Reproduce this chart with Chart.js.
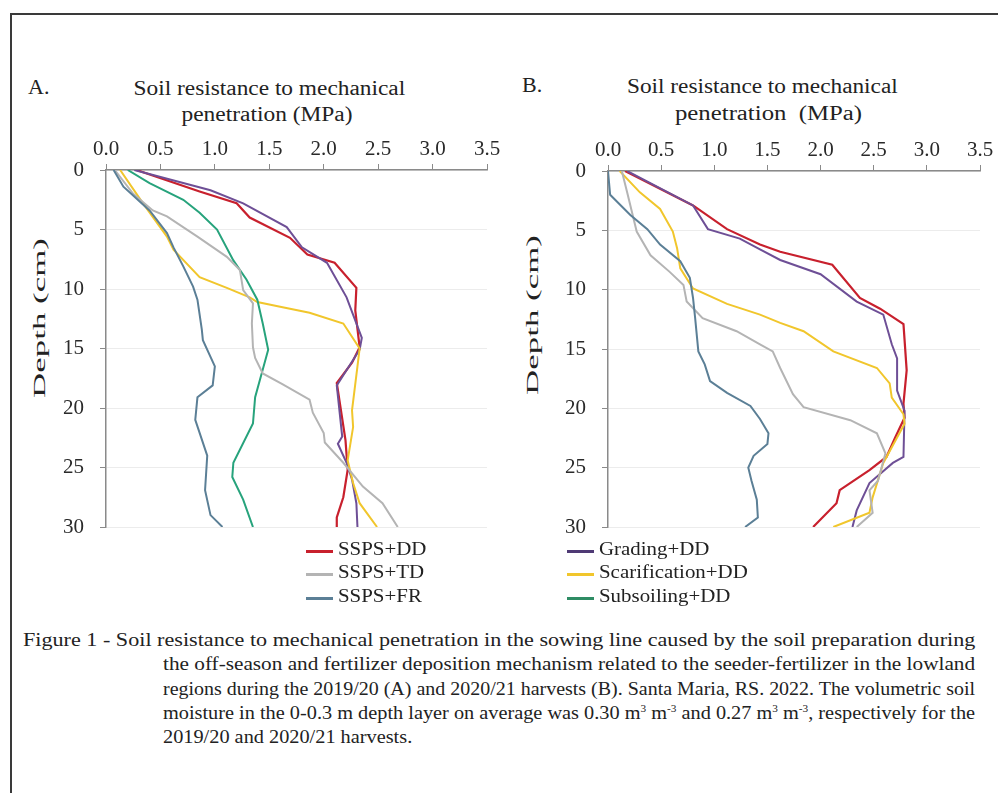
<!DOCTYPE html>
<html>
<head>
<meta charset="utf-8">
<script src="https://cdn.jsdelivr.net/npm/chart.js@4"></script>
<style>
    html, body { margin: 0; padding: 0; background: #fff; }
    body { width: 998px; height: 793px; position: relative; overflow: hidden;
           font-family: 'Liberation Serif', 'DejaVu Serif', serif; color: #222; }
    .frame { position: absolute; left: 10px; top: 13px; width: 1000px; height: 820px;
             border: 2px solid #3a3a3a; box-sizing: border-box; }
    .abs { position: absolute; white-space: pre; }
    .panel-tag { font-size: 22px; }
    .axis-title { font-size: 20px; line-height: 24px; }
    .y-title { font-size: 17px; line-height: 20px; }
    canvas { position: absolute; }
    .legend-row { position: absolute; font-size: 19px; line-height: 22px; height: 22px; white-space: nowrap; }
    .legend-row i { display: inline-block; width: 27px; height: 3px; vertical-align: middle;
                    margin-right: 5px; position: relative; top: 1px; }
    .legend-row span { display: inline-block; transform: scaleX(1.1); transform-origin: left center; }
    .cap { position: absolute; font-size: 18px; line-height: 24px; white-space: nowrap;
           transform-origin: left center; }
    .cap sup { font-size: 10px; line-height: 0; }
</style>
</head>
<body>
<div class="frame"></div>

<div class="abs panel-tag" style="left:28px; top:74px;">A.</div>
<div class="abs panel-tag" style="left:522px; top:72px;">B.</div>

<div class="abs axis-title" data-cx="269" data-fit="272" style="top:76px;">Soil resistance to mechanical</div>
<div class="abs axis-title" data-cx="267" data-fit="171" style="top:102px;">penetration (MPa)</div>
<div class="abs axis-title" data-cx="762" data-fit="271" style="top:74px;">Soil resistance to mechanical</div>
<div class="abs axis-title" data-cx="768" data-fit="187" style="top:101px;">penetration  (MPa)</div>

<div class="abs y-title" data-cx="40" data-cy="318" data-fit="160" data-rot="1">Depth (cm)</div>
<div class="abs y-title" data-cx="533" data-cy="315" data-fit="160" data-rot="1">Depth (cm)</div>

<canvas id="chart-a" width="500" height="410" style="left:0; top:130px;"></canvas>
<canvas id="chart-b" width="498" height="410" style="left:500px; top:130px;"></canvas>

<div id="legend"></div>

<div class="cap" data-line="952" style="left:23px; top:628px;">Figure 1 - Soil resistance to mechanical penetration in the sowing line caused by the soil preparation during</div>
<div class="cap" data-line="812" style="left:163px; top:652px;">the off-season and fertilizer deposition mechanism related to the seeder-fertilizer in the lowland</div>
<div class="cap" data-line="812" style="left:163px; top:677px;">regions during the 2019/20 (A) and 2020/21 harvests (B). Santa Maria, RS. 2022. The volumetric soil</div>
<div class="cap" data-line="812" style="left:163px; top:701px;">moisture in the 0-0.3 m depth layer on average was 0.30 m<sup>3</sup> m<sup>-3</sup> and 0.27 m<sup>3</sup> m<sup>-3</sup>, respectively for the</div>
<div class="cap" data-line="last" style="left:163px; top:725px;">2019/20 and 2020/21 harvests.</div>

<script>
(function () {
    'use strict';

    // ═══════════════════════════════════════════════════════════════
    // 1. DATA (depth in cm, resistance in MPa)
    // ═══════════════════════════════════════════════════════════════

    const xTicks = [0, 0.5, 1.0, 1.5, 2.0, 2.5, 3.0, 3.5];
    const depthTicks = [0, 5, 10, 15, 20, 25, 30];

    // Panel A — 2019/20
    const aRedDepth = [0, 1.8, 2.8, 4.0, 5.7, 7.1, 7.8, 9.9, 11.8, 14.9, 16.2, 17.9, 22.7, 25.2, 27.5, 29.2, 30];
    const aRedMpa   = [0.28, 0.86, 1.20, 1.32, 1.69, 1.85, 2.10, 2.30, 2.29, 2.33, 2.26, 2.12, 2.20, 2.22, 2.18, 2.12, 2.12];

    const aPurpleDepth = [0, 1.7, 2.8, 4.8, 6.5, 7.8, 10.7, 14.1, 15.1, 18.1, 22.4, 23.0, 24.6, 26.0, 28.0, 30];
    const aPurpleMpa   = [0.26, 0.96, 1.26, 1.66, 1.80, 2.03, 2.21, 2.35, 2.33, 2.12, 2.17, 2.13, 2.21, 2.26, 2.30, 2.31];

    const aGrayDepth = [0, 2.0, 3.4, 3.9, 5.6, 7.3, 8.4, 10.1, 11.2, 12.9, 14.9, 15.8, 17.1, 18.0, 19.3, 20.4, 22.1, 22.9, 24.6, 26.6, 28.0, 30];
    const aGrayMpa   = [0.08, 0.25, 0.43, 0.56, 0.84, 1.11, 1.23, 1.26, 1.35, 1.34, 1.35, 1.37, 1.44, 1.62, 1.87, 1.90, 2.00, 2.01, 2.18, 2.36, 2.54, 2.68];

    const aBlueDepth = [0, 1.4, 3.4, 5.3, 6.5, 8.1, 9.8, 10.9, 13.4, 14.3, 16.5, 18.1, 19.1, 21.0, 24.0, 26.9, 29.0, 30];
    const aBlueMpa   = [0.07, 0.16, 0.40, 0.56, 0.62, 0.71, 0.80, 0.84, 0.88, 0.89, 1.00, 0.98, 0.84, 0.82, 0.93, 0.91, 0.96, 1.07];

    const aYellowDepth = [0, 2.8, 5.6, 6.7, 9.0, 9.9, 10.7, 11.1, 11.5, 12.0, 12.9, 15.0, 16.5, 20.2, 21.6, 24.4, 26.3, 28.0, 30];
    const aYellowMpa   = [0.13, 0.34, 0.56, 0.62, 0.86, 1.11, 1.32, 1.39, 1.60, 1.87, 2.18, 2.33, 2.31, 2.26, 2.27, 2.22, 2.27, 2.33, 2.49];

    const aGreenDepth = [0, 1.1, 2.5, 3.6, 5.0, 7.6, 9.2, 10.9, 12.9, 15.1, 17.1, 19.1, 21.3, 24.6, 25.8, 27.7, 30];
    const aGreenMpa   = [0.20, 0.40, 0.71, 0.86, 1.02, 1.17, 1.29, 1.39, 1.44, 1.49, 1.43, 1.37, 1.35, 1.17, 1.16, 1.26, 1.35];

    // Panel B — 2020/21
    const bRedDepth = [0, 2.9, 4.9, 6.2, 6.8, 7.9, 10.7, 11.6, 12.9, 16.8, 19.6, 20.8, 22.5, 24.1, 25.2, 26.9, 28.0, 30];
    const bRedMpa   = [0.16, 0.80, 1.12, 1.43, 1.62, 2.11, 2.37, 2.56, 2.78, 2.81, 2.78, 2.79, 2.70, 2.62, 2.46, 2.18, 2.15, 1.93];

    const bPurpleDepth = [0, 2.9, 4.9, 5.7, 6.6, 7.5, 8.7, 11.0, 12.1, 14.6, 15.8, 18.5, 20.2, 24.1, 24.6, 26.3, 28.6, 30];
    const bPurpleMpa   = [0.18, 0.80, 0.94, 1.24, 1.43, 1.62, 2.00, 2.34, 2.59, 2.67, 2.72, 2.72, 2.79, 2.78, 2.68, 2.46, 2.34, 2.30];

    const bYellowDepth = [0, 1.8, 3.2, 5.1, 6.5, 8.2, 9.9, 11.2, 12.1, 12.8, 13.5, 15.2, 16.6, 17.9, 19.1, 20.5, 21.3, 24.6, 27.5, 28.8, 30];
    const bYellowMpa   = [0.11, 0.30, 0.49, 0.61, 0.65, 0.68, 0.80, 1.12, 1.43, 1.62, 1.84, 2.12, 2.53, 2.65, 2.67, 2.78, 2.79, 2.59, 2.49, 2.46, 2.12];

    const bGrayDepth = [0, 1.8, 5.1, 7.1, 8.5, 9.6, 11.0, 12.4, 13.5, 14.6, 15.2, 16.6, 18.8, 19.9, 21.0, 22.1, 23.8, 26.1, 26.9, 28.8, 30];
    const bGrayMpa   = [0.13, 0.18, 0.27, 0.40, 0.58, 0.71, 0.74, 0.89, 1.21, 1.43, 1.55, 1.62, 1.74, 1.84, 2.28, 2.53, 2.61, 2.54, 2.46, 2.49, 2.34];

    const bBlueDepth = [0, 2.0, 3.7, 4.9, 6.2, 7.6, 9.0, 10.7, 12.4, 15.2, 16.3, 17.7, 18.7, 19.8, 20.9, 22.1, 23.0, 24.0, 25.0, 26.1, 27.7, 29.2, 30];
    const bBlueMpa   = [0.00, 0.02, 0.21, 0.37, 0.49, 0.68, 0.77, 0.80, 0.82, 0.85, 0.91, 0.96, 1.12, 1.34, 1.43, 1.51, 1.50, 1.37, 1.32, 1.35, 1.40, 1.41, 1.29];

    // ═══════════════════════════════════════════════════════════════
    // 2. COLOURS + LEGEND
    // ═══════════════════════════════════════════════════════════════

    const COLORS = {
        red: '#c8202d',
        gray: '#b4b4b4',
        blue: '#5b7f96',
        purple: '#6e4f96',
        yellow: '#f1c62c',
        green: '#27a37c'
    };

    const legendItems = [
        { label: 'SSPS+DD', color: COLORS.red, left: 306, top: 538 },
        { label: 'SSPS+TD', color: COLORS.gray, left: 306, top: 561 },
        { label: 'SSPS+FR', color: COLORS.blue, left: 306, top: 585 },
        { label: 'Grading+DD', color: '#4f3a75', left: 567, top: 538 },
        { label: 'Scarification+DD', color: COLORS.yellow, left: 567, top: 561 },
        { label: 'Subsoiling+DD', color: '#2e8c64', left: 567, top: 585 }
    ];

    const legendEl = document.getElementById('legend');
    legendItems.forEach(function (item) {
        const row = document.createElement('div');
        row.className = 'legend-row';
        row.style.left = item.left + 'px';
        row.style.top = item.top + 'px';
        row.innerHTML = '<i style="background:' + item.color + '"></i><span>' + item.label + '</span>';
        legendEl.appendChild(row);
    });

    // ═══════════════════════════════════════════════════════════════
    // 3. TEXT FITTING (the source figure is stretched horizontally)
    // ═══════════════════════════════════════════════════════════════

    document.querySelectorAll('[data-fit]').forEach(function (el) {
        const w = el.offsetWidth, h = el.offsetHeight;
        const s = Number(el.dataset.fit) / w;
        if (el.dataset.rot) {
            el.style.left = (Number(el.dataset.cx) - w / 2) + 'px';
            el.style.top = (Number(el.dataset.cy) - h / 2) + 'px';
            el.style.transform = 'rotate(-90deg) scaleX(' + s + ')';
        } else {
            el.style.left = (Number(el.dataset.cx) - w / 2) + 'px';
            el.style.transform = 'scaleX(' + s + ')';
        }
    });

    let lastScale = 1;
    document.querySelectorAll('.cap').forEach(function (el) {
        if (el.dataset.line !== 'last') {
            lastScale = Number(el.dataset.line) / el.offsetWidth;
        }
        el.style.transform = 'scaleX(' + lastScale + ')';
    });

    // ═══════════════════════════════════════════════════════════════
    // 4. CHART BUILDER
    // ═══════════════════════════════════════════════════════════════

    function toPoints(depths, values) {
        return depths.map(function (d, i) { return { x: values[i], y: d }; });
    }

    function series(depths, values, color, width) {
        return {
            data: toPoints(depths, values),
            borderColor: color,
            backgroundColor: color,
            borderWidth: width || 2,
            showLine: true,
            pointRadius: 0,
            tension: 0
        };
    }

    function buildChart(id, datasets, yAxisWidth, pad) {
        const tickFont = { family: "'Liberation Serif', serif", size: 21 };
        return new Chart(document.getElementById(id), {
            type: 'scatter',
            data: { datasets: datasets },
            options: {
                responsive: false,
                animation: false,
                layout: { padding: pad },
                plugins: { legend: { display: false }, tooltip: { enabled: false } },
                scales: {
                    x: {
                        type: 'linear',
                        position: 'top',
                        min: 0,
                        max: 3.5,
                        afterBuildTicks: function (s) { s.ticks = xTicks.map(function (v) { return { value: v }; }); },
                        afterFit: function (s) { s.height = 40; s.paddingLeft = 0; s.paddingRight = 0; },
                        ticks: {
                            color: '#2a2a2a',
                            font: tickFont,
                            padding: 2,
                            maxRotation: 0,
                            autoSkip: false,
                            callback: function (v) { return Number(v).toFixed(1); }
                        },
                        grid: { drawOnChartArea: false, drawTicks: true, tickLength: 6, tickColor: '#8a8a8a' },
                        border: { color: '#8a8a8a', width: 1.5 }
                    },
                    y: {
                        type: 'linear',
                        reverse: true,
                        min: 0,
                        max: 30,
                        afterBuildTicks: function (s) { s.ticks = depthTicks.map(function (v) { return { value: v }; }); },
                        afterFit: function (s) { s.width = yAxisWidth; s.paddingTop = 0; s.paddingBottom = 0; },
                        ticks: { color: '#2a2a2a', font: tickFont, padding: 16, autoSkip: false },
                        grid: { color: '#ececec', lineWidth: 1, tickLength: 6, tickColor: '#8a8a8a' },
                        border: { color: '#8a8a8a', width: 1.5 }
                    }
                }
            }
        });
    }

    // ═══════════════════════════════════════════════════════════════
    // 5. PANELS
    // ═══════════════════════════════════════════════════════════════

    buildChart('chart-a', [
        series(aBlueDepth, aBlueMpa, COLORS.blue),
        series(aGrayDepth, aGrayMpa, COLORS.gray),
        series(aGreenDepth, aGreenMpa, COLORS.green),
        series(aYellowDepth, aYellowMpa, COLORS.yellow),
        series(aPurpleDepth, aPurpleMpa, COLORS.purple),
        series(aRedDepth, aRedMpa, COLORS.red, 2.2)
    ], 106, { left: 0, right: 13, top: 0, bottom: 13 });

    buildChart('chart-b', [
        series(bBlueDepth, bBlueMpa, COLORS.blue),
        series(bGrayDepth, bGrayMpa, COLORS.gray),
        series(bYellowDepth, bYellowMpa, COLORS.yellow),
        series(bPurpleDepth, bPurpleMpa, COLORS.purple),
        series(bRedDepth, bRedMpa, COLORS.red, 2.2)
    ], 108, { left: 0, right: 18, top: 1, bottom: 13 });

})();
</script>
</body>
</html>
